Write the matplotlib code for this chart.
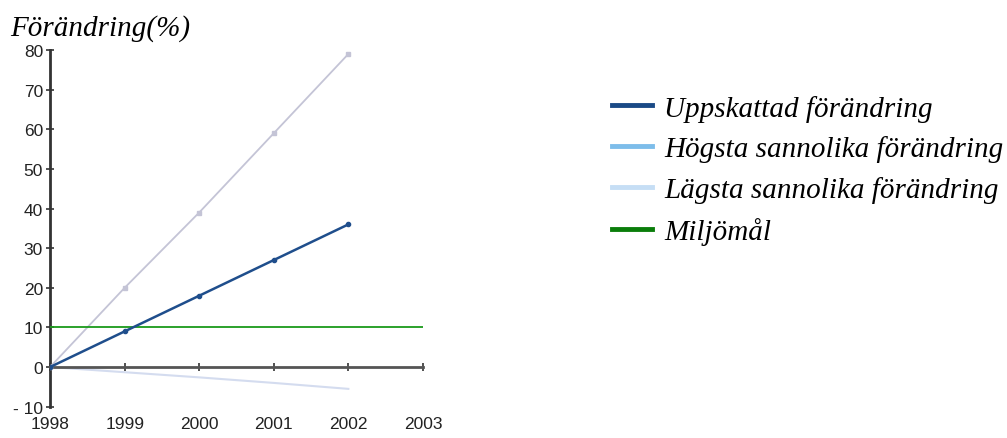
import matplotlib.pyplot as plt
from matplotlib.lines import Line2D

years = [1998, 1999, 2000, 2001, 2002]
uppskattad = [0, 9, 18, 27, 36]
hogsta = [0, 20, 39, 59, 79]
lagsta = [0, -1.3, -2.6, -4, -5.5]
mal_years = [1998, 2003]
miljomal = [10, 10]
labels = ['Uppskattad förändring', 'Högsta sannolika förändring',
          'Lägsta sannolika förändring', 'Miljömål']

fig = plt.figure(figsize=(10.07, 4.39), dpi=100)
ax = fig.add_axes([0.0497, 0.0713, 0.3703, 0.8125])

ax.plot(years, lagsta, color='#d4dcef', lw=1.5, zorder=2)
ax.plot(years, hogsta, color='#c4c4d6', lw=1.3, marker='s', ms=3, zorder=3)
ax.plot(mal_years, miljomal, color='#1a9a1a', lw=1.3, zorder=4)
ax.plot(years, uppskattad, color='#1f4e8c', lw=1.8, marker='o', ms=3, zorder=5)

ax.set_xlim(1998, 2003)
ax.set_ylim(-10, 80)
ax.set_yticks(range(-10, 81, 10))
ax.set_yticklabels(['- 10'] + [str(v) for v in range(0, 81, 10)])
ax.set_xticks(range(1998, 2004))

for s in ['top', 'right']:
    ax.spines[s].set_visible(False)
ax.spines['bottom'].set_position(('data', 0))
ax.spines['bottom'].set_color('#555555')
ax.spines['bottom'].set_linewidth(2)
ax.spines['left'].set_color('#333333')
ax.spines['left'].set_linewidth(2)
ax.tick_params(axis='x', direction='inout', length=6, width=1.2, pad=32,
               labelsize=12.5, colors='#333333', labelcolor='#222222')
ax.tick_params(axis='y', direction='inout', length=6, width=1.2, pad=2,
               labelsize=12.5, colors='#333333', labelcolor='#222222')
for t in ax.get_xticklabels() + ax.get_yticklabels():
    t.set_fontfamily('Liberation Sans')

fig.text(0.01, 0.935, 'Förändring(%)', fontsize=21, style='italic',
         family='Liberation Serif', va='center', ha='left')

handles = [Line2D([], [], color=c, lw=3.5)
           for c in ['#1a4a86', '#7dbdea', '#c6def5', '#0a7d0a']]
fig.legend(handles, labels, loc='upper left', bbox_to_anchor=(0.608, 0.782),
           frameon=False, prop={'family': 'Liberation Serif', 'style': 'italic', 'size': 21},
           handlelength=1.35, handletextpad=0.42, labelspacing=0.47,
           borderpad=0, borderaxespad=0)

fig.savefig('out.png', dpi=100)
